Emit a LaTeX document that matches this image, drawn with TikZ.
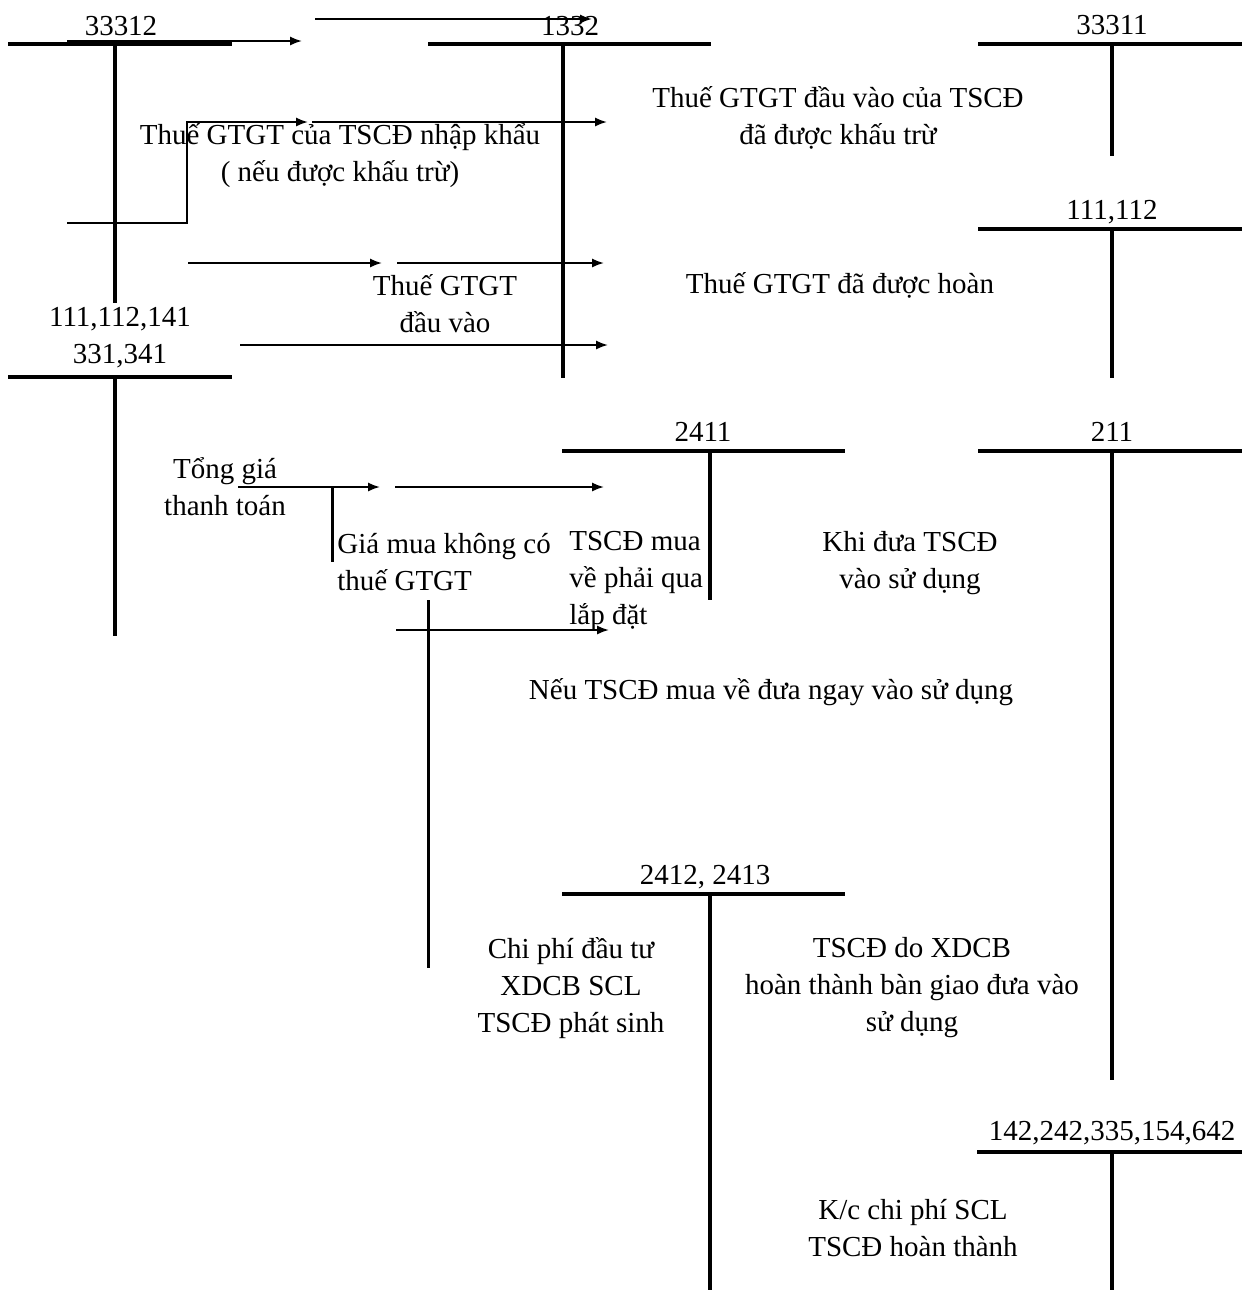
\documentclass[tikz,border=0pt]{standalone}
\usepackage{fontspec}
\setmainfont{Liberation Serif}
\usetikzlibrary{arrows.meta}

\begin{document}
\begin{tikzpicture}[x=0.5pt,y=-0.5pt,
  acct/.style={line width=1.8pt},
  stem/.style={line width=1.5pt},
  flow/.style={line width=1pt,-{Latex[length=6pt,width=4.6pt]}},
  txt/.style={inner sep=0pt,font=\fontsize{14.5pt}{18.5pt}\selectfont,align=center},
  ltxt/.style={inner sep=0pt,font=\fontsize{14.5pt}{18.5pt}\selectfont,align=left,anchor=west}]

\useasboundingbox (0,0) rectangle (1242,1297);

% ---------- account titles ----------
\node[txt] (n33312) at (121,26) {33312};
\node[txt] (n1332)  at (570,26) {1332};
\node[txt] (n33311) at (1112,25) {33311};
\node[txt] (n111112) at (1112,212) {111,112};
\node[txt] (n111341) at (120,338) {111,112,141\\331,341};
\node[txt] (n2411) at (703,432) {2411};
\node[txt] (n211)  at (1112,432) {211};
\node[txt] (n2412) at (705,877) {2412, 2413};
\node[txt] (n142)  at (1112,1133) {142,242,335,154,642};

% ---------- T-account skeletons ----------
\coordinate (a1L) at (8,44);    \coordinate (a1R) at (232,44);
\coordinate (a1T) at (115,44);  \coordinate (a1B) at (115,303);
\coordinate (a2L) at (428,44);  \coordinate (a2R) at (711,44);
\coordinate (a2T) at (563,44);  \coordinate (a2B) at (563,378);
\coordinate (a3L) at (978,44);  \coordinate (a3R) at (1242,44);
\coordinate (a3T) at (1112,44); \coordinate (a3B) at (1112,156);
\coordinate (a4L) at (978,229); \coordinate (a4R) at (1242,229);
\coordinate (a4T) at (1112,229); \coordinate (a4B) at (1112,378);
\coordinate (a5L) at (8,377);   \coordinate (a5R) at (232,377);
\coordinate (a5T) at (115,377); \coordinate (a5B) at (115,636);
\coordinate (a6L) at (562,451); \coordinate (a6R) at (845,451);
\coordinate (a6T) at (710,451); \coordinate (a6B) at (710,600);
\coordinate (a7L) at (978,451); \coordinate (a7R) at (1242,451);
\coordinate (a7T) at (1112,451); \coordinate (a7B) at (1112,1080);
\coordinate (a8L) at (562,894); \coordinate (a8R) at (845,894);
\coordinate (a8T) at (710,894); \coordinate (a8B) at (710,1290);
\coordinate (a9L) at (977,1152); \coordinate (a9R) at (1242,1152);
\coordinate (a9T) at (1112,1152); \coordinate (a9B) at (1112,1290);

\foreach \k in {1,...,9}{
  \draw[acct] (a\k L) -- (a\k R);
  \draw[acct] (a\k T) -- (a\k B);
}

% ---------- flows ----------
\coordinate (f1a) at (67,41);   \coordinate (f1b) at (302,41);
\coordinate (f2a) at (315,19);  \coordinate (f2b) at (592,19);
\coordinate (f3a) at (67,223);  \coordinate (f3c) at (187,223);
\coordinate (f3d) at (187,122); \coordinate (f3b) at (308,122);
\coordinate (f4a) at (312,122); \coordinate (f4b) at (607,122);
\coordinate (f5a) at (188,263); \coordinate (f5b) at (382,263);
\coordinate (f6a) at (397,263); \coordinate (f6b) at (604,263);
\coordinate (f7a) at (240,345); \coordinate (f7b) at (608,345);
\coordinate (f8a) at (238,487); \coordinate (f8b) at (380,487);
\coordinate (f9a) at (395,487); \coordinate (f9b) at (604,487);
\coordinate (s1a) at (332,487); \coordinate (s1b) at (332,562);
\coordinate (s2a) at (428,600); \coordinate (s2b) at (428,968);
\coordinate (f10a) at (396,630); \coordinate (f10b) at (609,630);

\draw[flow] (f1a) -- (f1b);
\draw[flow] (f2a) -- (f2b);
\draw[flow] (f3a) -- (f3c) -- (f3d) -- (f3b);
\draw[flow] (f4a) -- (f4b);
\draw[flow] (f5a) -- (f5b);
\draw[flow] (f6a) -- (f6b);
\draw[flow] (f7a) -- (f7b);
\draw[flow] (f8a) -- (f8b);
\draw[flow] (f9a) -- (f9b);
\draw[stem] (s1a) -- (s1b);
\draw[stem] (s2a) -- (s2b);
\draw[flow] (f10a) -- (f10b);

% ---------- descriptions ----------
\node[txt] (d1) at (340,156) {Thuế GTGT của TSCĐ nhập khẩu\\( nếu được khấu trừ)};
\node[txt] (d2) at (838,118) {Thuế GTGT đầu vào của TSCĐ\\đã được khấu trừ};
\node[txt] (d3) at (445,304) {Thuế GTGT\\đầu vào};
\node[txt] (d4) at (840,285) {Thuế GTGT đã được hoàn};
\node[txt] (d5) at (225,487) {Tổng giá\\thanh toán};
\node[ltxt] (d6) at (337,562) {Giá mua không có\\thuế GTGT};
\node[ltxt] (d7) at (569,581) {TSCĐ mua\\về phải qua\\lắp đặt};
\node[txt] (d8) at (910,563) {Khi đưa TSCĐ\\vào sử dụng};
\node[txt] (d9) at (771,692) {Nếu TSCĐ mua về đưa ngay vào sử dụng};
\node[txt] (d10) at (571,988) {Chi phí đầu tư\\XDCB SCL\\TSCĐ phát sinh};
\node[txt] (d11) at (912,988) {TSCĐ do XDCB\\hoàn thành bàn giao đưa vào\\sử dụng};
\node[txt] (d12) at (913,1228) {K/c chi phí SCL\\TSCĐ hoàn thành};

\end{tikzpicture}
\end{document}
